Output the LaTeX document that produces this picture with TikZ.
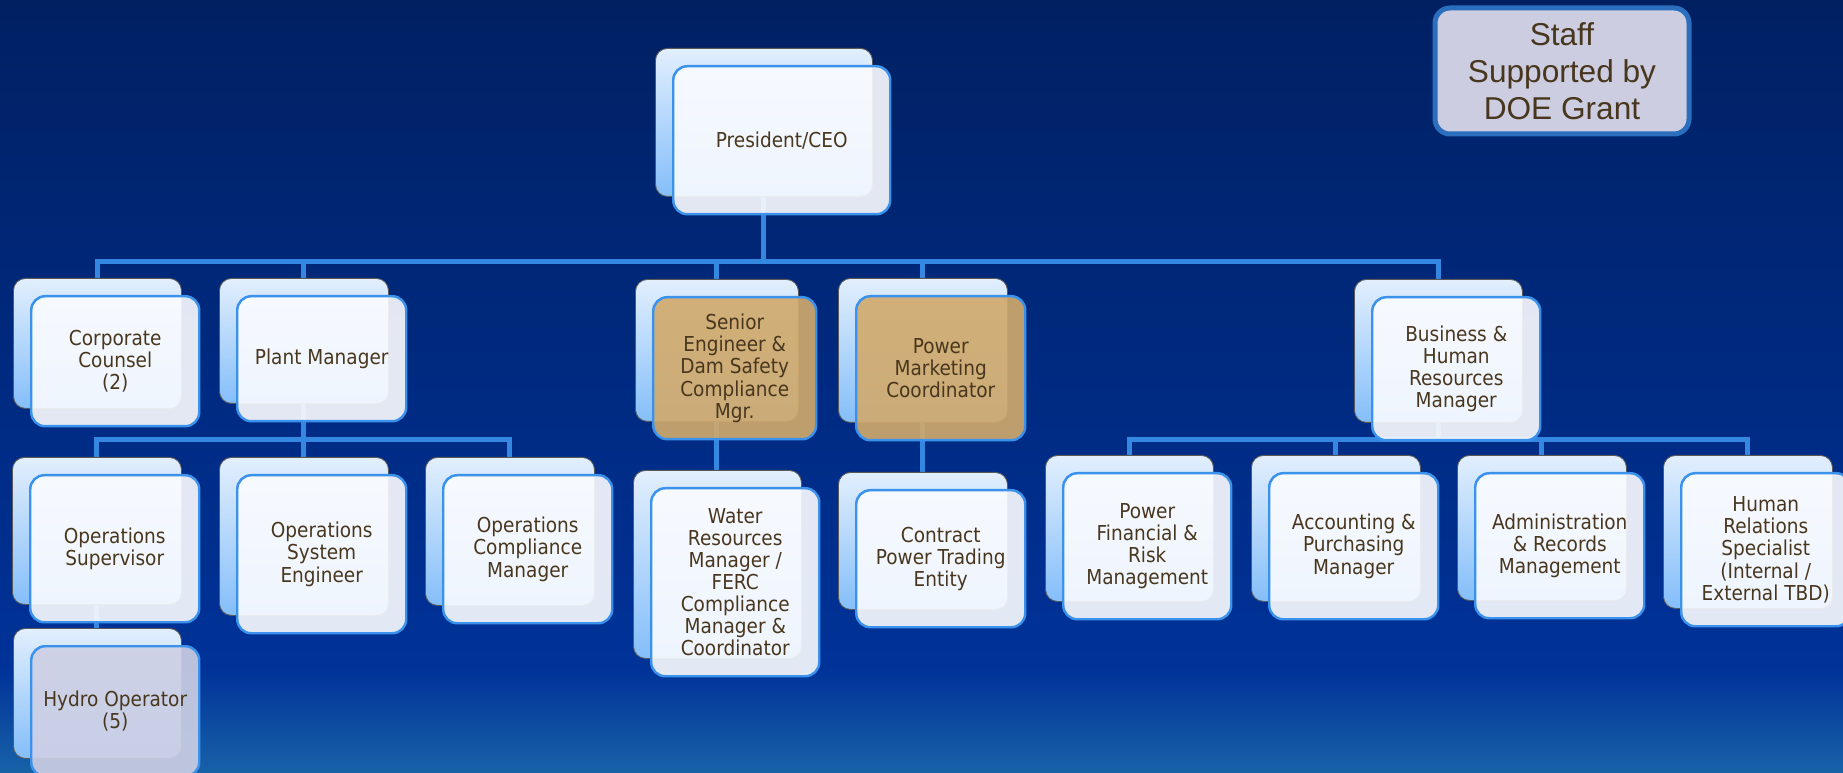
\documentclass[tikz,border=0pt]{standalone}
\usepackage{fontspec}
\setmainfont{DejaVu Sans}[FakeStretch=0.9]
\newfontfamily\notefont{Liberation Sans}
\usetikzlibrary{calc}
\definecolor{navytop}{RGB}{0,32,98}
\definecolor{navymid}{RGB}{0,50,152}
\definecolor{navybot}{RGB}{24,98,168}
\definecolor{linkblue}{RGB}{52,136,226}
\definecolor{cardedge}{RGB}{58,146,236}
\definecolor{cardback}{RGB}{226,239,253}
\definecolor{cardshade}{RGB}{132,190,250}
\definecolor{cardface}{RGB}{250,251,255}
\definecolor{tanface}{RGB}{210,170,108}
\definecolor{greyface}{RGB}{206,208,228}
\definecolor{inkbrown}{RGB}{72,55,30}
\definecolor{notefill}{RGB}{204,205,224}
\definecolor{noteedge}{RGB}{44,110,190}
\def\pxu{0.02cm}
\pgfdeclarelayer{bg}
\pgfdeclarelayer{links}
\pgfsetlayers{bg,links,main}
\tikzset{
  backcard/.style={anchor=north west, rectangle, rounded corners=0.24cm, draw=black!65, line width=0.5pt, top color=cardback, bottom color=cardshade, inner sep=0pt},
  frontcard/.style={anchor=north west, rectangle, rounded corners=0.28cm, draw=cardedge, line width=1.4pt, fill=cardface, fill opacity=0.91, text opacity=1, text=inkbrown, font=\fontsize{11.7pt}{12.6pt}\selectfont, align=center, inner sep=0pt},
  tancard/.style={frontcard, fill=tanface},
  greycard/.style={frontcard, fill=greyface},
  link/.style={line width=0.1cm, color=linkblue},
  note/.style={rectangle, rounded corners=0.3cm, draw=noteedge, line width=0.1cm, fill=notefill, text=inkbrown, minimum width=254*\pxu, minimum height=126*\pxu, align=center, font=\notefont\fontsize{18pt}{21pt}\selectfont}
}
\def\card[#1](#2)(#3,#4:#5,#6)#7{%
  \node[backcard, minimum width=#5*\pxu, minimum height=#6*\pxu] (#2) at (#3,#4) {};
  \node[#1, minimum width=#5*\pxu, minimum height=#6*\pxu] (#2-f) at ($(#2.north west)+(17,17)$) {#7};}

\begin{document}
\begin{tikzpicture}[x=\pxu, y=-\pxu]
		%%%%% START %%%%%
		\useasboundingbox (0,0) rectangle (1843,773);
		\begin{pgfonlayer}{bg}
		\shade[top color=navytop, bottom color=navymid] (0,0) rectangle (1843,668);
		\shade[top color=navymid, bottom color=navybot] (0,667) rectangle (1843,773);
		\end{pgfonlayer}
		
		\node[note] (grant) at (1562,71) {Staff\\Supported by\\DOE Grant};
		
		\card[frontcard](pres)(655,48:217,148){President/CEO}
		
		\card[frontcard](cc)(13,278:168,130){Corporate\\Counsel\\(2)}
		\card[frontcard](plant)(219,278:169,125){Plant Manager}
		\card[tancard](seng)(635,279:163,142){Senior\\Engineer \&\\Dam Safety\\Compliance\\Mgr.}
		\card[tancard](pmc)(838,278:169,144){Power\\Marketing\\Coordinator}
		\card[frontcard](biz)(1354,279:168,143){Business \&\\Human\\Resources\\Manager}
		
		\card[frontcard](opsup)(12,457:169,147){Operations\\Supervisor}
		\card[frontcard](opsys)(219,457:169,158){Operations\\System\\Engineer}
		\card[frontcard](opcomp)(425,457:169,148){Operations\\Compliance\\Manager}
		\card[greycard](hydro)(13,628:168,130){Hydro Operator\\(5)}
		
		\card[frontcard](water)(633,470:168,188){Water\\Resources\\Manager /\\FERC\\Compliance\\Manager \&\\Coordinator}
		\card[frontcard](trade)(838,472:169,137){Contract\\Power Trading\\Entity}
		
		\card[frontcard](pfin)(1045,455:168,146){Power\\Financial \&\\Risk\\Management}
		\card[frontcard](acct)(1251,455:169,146){Accounting \&\\Purchasing\\Manager}
		\card[frontcard](admin)(1457,455:169,145){Administration\\\& Records\\Management}
		\card[frontcard](hrs)(1663,455:169,153){Human\\Relations\\Specialist\\(Internal /\\External TBD)}
		
		\begin{pgfonlayer}{links}
		\coordinate (topbus) at (0,262);
		\coordinate (lowbus) at (0,440);
		
		\draw[link] (pres.center) -- (pres.center |- topbus);
		\draw[link] (cc.north) -- (cc.north |- topbus) -- (biz.north |- topbus) -- (biz.north);
		\draw[link] (plant.north |- topbus) -- (plant.north);
		\draw[link] (seng.north |- topbus) -- (seng.north);
		\draw[link] (pmc.north |- topbus) -- (pmc.north);
		
		\draw[link] (plant.center) -- (plant.center |- lowbus);
		\draw[link] (opsup.north) -- (opsup.north |- lowbus) -- (opcomp.north |- lowbus) -- (opcomp.north);
		\draw[link] (opsys.north |- lowbus) -- (opsys.north);
		\draw[link] (opsup.center) -- (opsup.center |- hydro.north);
		
		\draw[link] (seng.center) -- (seng.center |- water.north);
		\draw[link] (pmc.center) -- (pmc.center |- trade.north);
		
		\draw[link] (biz.center) -- (biz.center |- lowbus);
		\draw[link] (pfin.north) -- (pfin.north |- lowbus) -- (hrs.north |- lowbus) -- (hrs.north);
		\draw[link] (acct.north |- lowbus) -- (acct.north);
		\draw[link] (admin.north |- lowbus) -- (admin.north);
		\end{pgfonlayer}
		
		%%%%% END %%%%%
\end{tikzpicture}
\end{document}
